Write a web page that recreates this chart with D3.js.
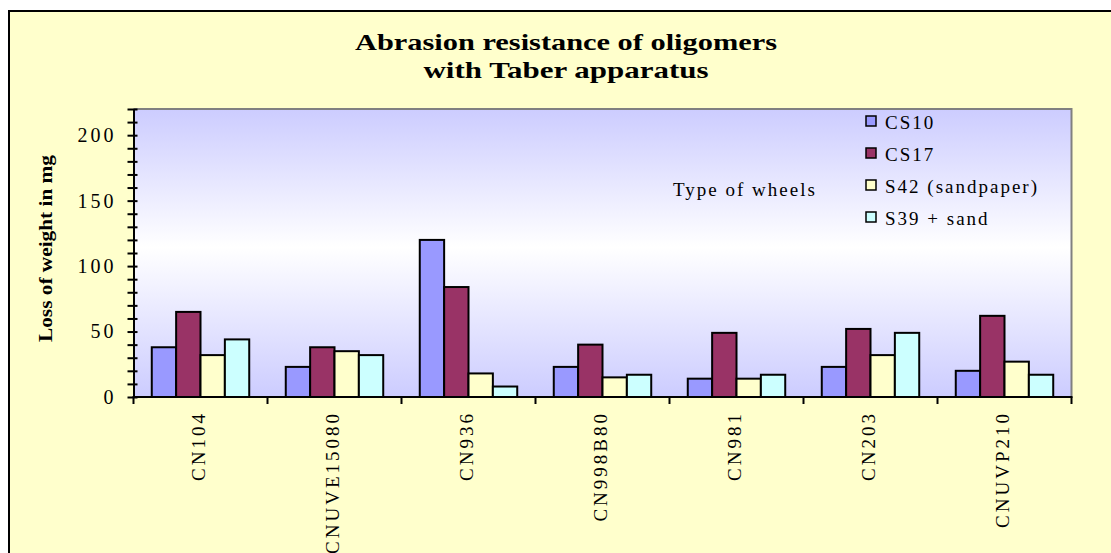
<!DOCTYPE html>
<html>
<head>
<meta charset="utf-8">
<script src="https://cdn.jsdelivr.net/npm/d3@7"></script>
<style>
  body { margin: 0; background: #fff; }
  text { font-family: "Liberation Serif", "DejaVu Serif", serif; fill: #000; }
</style>
</head>
<body>
<div id="chart-area"></div>
<script>
const categories = ["CN104", "CNUVE15080", "CN936", "CN998B80", "CN981", "CN203", "CNUVP210"];
const series = ["CS10", "CS17", "S42 (sandpaper)", "S39 + sand"];
const cs10 = [38, 23, 120, 23, 14, 23, 20];
const cs17 = [65, 38, 84, 40, 49, 52, 62];
const s42 = [32, 35, 18, 15, 14, 32, 27];
const s39 = [44, 32, 8, 17, 17, 49, 17];
const yTicks = d3.range(0, 221, 10);
const yLabels = [0, 50, 100, 150, 200];

const colors = ["#9999ff", "#993366", "#ffffcc", "#ccffff"];
const values = [cs10, cs17, s42, s39];

const W = 1111, H = 553;
const plot = {left: 133.5, right: 1071.5, top: 109, bottom: 397};

var svg = d3.select("#chart-area").append("svg")
    .attr("width", W)
    .attr("height", H);

// outer chart frame
svg.append("rect")
    .attr("x", 9).attr("y", 11)
    .attr("width", W).attr("height", H)
    .attr("fill", "#ffffcc")
    .attr("stroke", "#000")
    .attr("stroke-width", 2);

// plot area gradient
var grad = svg.append("defs").append("linearGradient")
    .attr("id", "bg").attr("x1", 0).attr("y1", 0).attr("x2", 0).attr("y2", 1);
grad.append("stop").attr("offset", "0").attr("stop-color", "#ccccff");
grad.append("stop").attr("offset", "0.48").attr("stop-color", "#ffffff");
grad.append("stop").attr("offset", "1").attr("stop-color", "#ccccff");

svg.append("rect")
    .attr("x", plot.left).attr("y", plot.top)
    .attr("width", plot.right - plot.left).attr("height", plot.bottom - plot.top)
    .attr("fill", "url(#bg)");

svg.append("path")
    .attr("d", `M${plot.left},${plot.top}H${plot.right}V${plot.bottom}`)
    .attr("fill", "none")
    .attr("stroke", "#808080")
    .attr("stroke-width", 2);

var x0 = d3.scaleBand()
    .domain(categories)
    .range([plot.left, plot.right]);

var x1 = d3.scaleBand()
    .domain(series)
    .range([0, x0.bandwidth()])
    .paddingOuter(0.75);

var y = d3.scaleLinear()
    .domain([0, 220])
    .range([plot.bottom, plot.top]);

// bars
var groups = svg.append("g")
    .selectAll("g")
    .data(categories)
    .enter()
    .append("g")
    .attr("transform", d => "translate(" + x0(d) + ",0)");

groups.selectAll("rect")
    .data((c, i) => series.map((s, j) => ({s: s, v: values[j][i], j: j})))
    .enter()
    .append("rect")
    .attr("x", d => x1(d.s))
    .attr("y", d => y(d.v))
    .attr("width", x1.bandwidth())
    .attr("height", d => y(0) - y(d.v))
    .attr("fill", d => colors[d.j])
    .attr("stroke", "#000")
    .attr("stroke-width", 2);

// y axis
var yAxis = d3.axisLeft(y)
    .tickValues(yTicks)
    .tickSizeInner(6)
    .tickSizeOuter(0)
    .tickPadding(14)
    .tickFormat(d => yLabels.includes(d) ? d : "");

var gy = svg.append("g")
    .attr("transform", "translate(" + plot.left + ",0)")
    .call(yAxis);
gy.select(".domain").attr("stroke", "#000").attr("stroke-width", 2);
gy.selectAll(".tick line").attr("x1", 4).attr("stroke", "#000").attr("stroke-width", 2);
gy.selectAll(".tick text")
    .attr("font-family", "Liberation Serif")
    .attr("font-size", 20)
    .attr("letter-spacing", 3)
    .attr("dx", 3);

// x axis
svg.append("line")
    .attr("x1", plot.left - 1).attr("x2", plot.right + 1)
    .attr("y1", plot.bottom).attr("y2", plot.bottom)
    .attr("stroke", "#000").attr("stroke-width", 2);

var bounds = categories.map(c => x0(c)).concat([x0(categories[categories.length - 1]) + x0.bandwidth()]);
svg.append("g").selectAll("line")
    .data(bounds)
    .enter()
    .append("line")
    .attr("x1", d => d).attr("x2", d => d)
    .attr("y1", plot.bottom).attr("y2", plot.bottom + 7)
    .attr("stroke", "#000").attr("stroke-width", 2);

svg.append("g").selectAll("text")
    .data(categories)
    .enter()
    .append("text")
    .attr("transform", d => "translate(" + (x0(d) + x0.bandwidth() / 2 + 4) + ",411) rotate(-90)")
    .attr("text-anchor", "end")
    .attr("font-size", 19)
    .attr("letter-spacing", 3)
    .text(d => d);

// y axis title
svg.append("text")
    .attr("transform", "translate(52,248.5) rotate(-90)")
    .attr("text-anchor", "middle")
    .attr("font-size", 19)
    .attr("font-weight", "bold")
    .attr("textLength", 187)
    .attr("lengthAdjust", "spacingAndGlyphs")
    .text("Loss of weight in mg");

// title
svg.append("text")
    .attr("x", 566).attr("y", 50)
    .attr("text-anchor", "middle")
    .attr("font-size", 24)
    .attr("font-weight", "bold")
    .attr("textLength", 422)
    .attr("lengthAdjust", "spacingAndGlyphs")
    .text("Abrasion resistance of oligomers");

svg.append("text")
    .attr("x", 566).attr("y", 78)
    .attr("text-anchor", "middle")
    .attr("font-size", 24)
    .attr("font-weight", "bold")
    .attr("textLength", 285)
    .attr("lengthAdjust", "spacingAndGlyphs")
    .text("with Taber apparatus");

// legend
var legend = svg.append("g")
    .selectAll("g")
    .data(series)
    .enter()
    .append("g")
    .attr("transform", (d, i) => "translate(866," + (122 + i * 32) + ")");

legend.append("rect")
    .attr("x", 0).attr("y", -6)
    .attr("width", 10).attr("height", 10)
    .attr("fill", (d, i) => colors[i])
    .attr("stroke", "#000")
    .attr("stroke-width", 1.5);

legend.append("text")
    .attr("x", 19).attr("y", 7)
    .attr("font-size", 19)
    .attr("letter-spacing", 2)
    .text(d => d);

svg.append("text")
    .attr("x", 673).attr("y", 196)
    .attr("font-size", 19)
    .attr("letter-spacing", 2)
    .text("Type of wheels");
</script>
</body>
</html>
